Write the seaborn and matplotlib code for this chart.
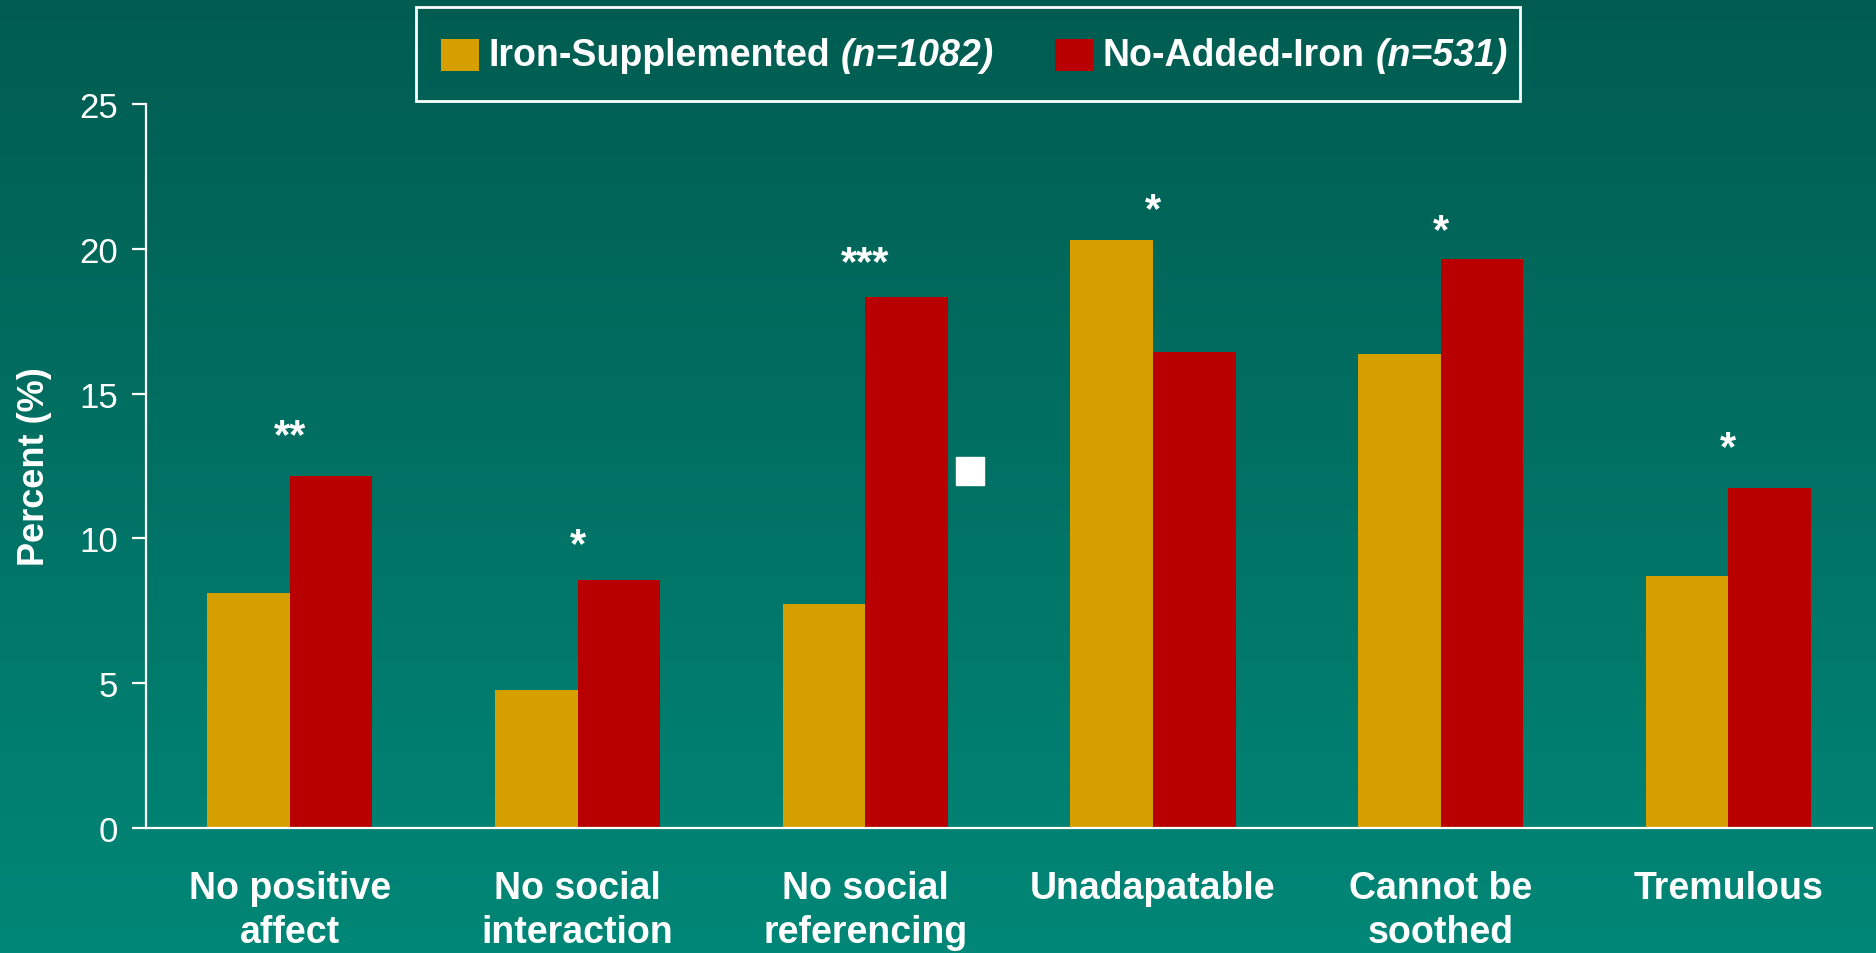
import numpy as np
import pandas as pd
import matplotlib
matplotlib.use("Agg")
import matplotlib.pyplot as plt
import seaborn as sns
from matplotlib.offsetbox import TextArea, DrawingArea, HPacker, AnchoredOffsetbox
from matplotlib.patches import Rectangle

categories = ["No positive\naffect", "No social\ninteraction", "No social\nreferencing",
              "Unadapatable", "Cannot be\nsoothed", "Tremulous"]
iron_supp = [8.1, 4.75, 7.75, 20.3, 16.35, 8.7]
no_iron = [12.15, 8.55, 18.35, 16.45, 19.65, 11.75]
stars = ["**", "*", "***", "*", "*", "*"]
star_y = [13.7, 9.95, 19.7, 21.5, 20.8, 13.3]
groups = ["Iron-Supplemented", "No-Added-Iron"]
group_n = ["(n=1082)", "(n=531)"]
colors = ["#D59F00", "#B90000"]

df = pd.DataFrame({
    "category": categories * 2,
    "group": [groups[0]] * len(categories) + [groups[1]] * len(categories),
    "value": iron_supp + no_iron,
})

sns.set_theme(style="white")
plt.rcParams["font.family"] = ["Liberation Sans", "DejaVu Sans"]

fig = plt.figure(figsize=(18.76, 9.54), dpi=100)

# background gradient
bg = fig.add_axes([0, 0, 1, 1], zorder=-10)
grad = np.linspace(0, 1, 256).reshape(-1, 1)
top = np.array([0x00, 0x5C, 0x51]) / 255
bot = np.array([0x00, 0x87, 0x77]) / 255
img = top + (bot - top) * grad[..., None]
bg.imshow(img, aspect="auto", extent=[0, 1, 0, 1])
bg.axis("off")

ax = fig.add_axes([0.0778, 0.131, 0.9202, 0.759])
ax.set_facecolor("none")
sns.barplot(data=df, x="category", y="value", hue="group", palette=colors,
            width=0.574, gap=0, saturation=1, dodge=True, ax=ax, legend=False,
            linewidth=0, edgecolor="none")

ax.set_xlim(-0.5, 5.5)
ax.set_ylim(0, 25)
ax.set_yticks([0, 5, 10, 15, 20, 25])
for s in ["top", "right"]:
    ax.spines[s].set_visible(False)
for s in ["left", "bottom"]:
    ax.spines[s].set_color("white")
    ax.spines[s].set_linewidth(1.6)
ax.tick_params(axis="y", direction="out", length=10, width=1.6, color="white",
               labelcolor="white", labelsize=25, pad=10, left=True)
ax.tick_params(axis="x", length=0, labelcolor="white", labelsize=27, pad=30)
for lab in ax.get_xticklabels():
    lab.set_fontweight("bold")
    lab.set_linespacing(1.3)
ax.set_xlabel("")
ax.set_ylabel("Percent (%)", color="white", fontsize=26, fontweight="bold", labelpad=20)

# significance stars
for i, st in enumerate(stars):
    ax.text(i, star_y[i] - 0.56, st, ha="center", va="baseline", color="white",
            fontsize=30, fontweight="bold")

# stray white square marker
ax.plot([2.363], [12.34], marker="s", markersize=20, color="white", linestyle="none")

# legend frame
fig.add_artist(Rectangle((0.2217, 0.8931), 0.5885, 0.0985, transform=fig.transFigure,
                         facecolor="none", edgecolor="white", linewidth=2))


def gap(w):
    return DrawingArea(w, 1, 0, 0)


# legend content: bold name + italic n
items = []
for g, n, c in zip(groups, group_n, colors):
    da = DrawingArea(27, 23, 0, 0)
    da.add_artist(Rectangle((0, 0), 27, 23, facecolor=c, edgecolor="none"))
    items += [da, gap(7),
              TextArea(g, textprops=dict(color="white", fontsize=27, fontweight="bold")),
              gap(8),
              TextArea(n, textprops=dict(color="white", fontsize=27,
                                         fontweight="bold", fontstyle="italic")),
              gap(44)]
items = items[:-1]
row = HPacker(children=items, align="center", pad=0, sep=0)
leg = AnchoredOffsetbox(loc="center", child=row, pad=0, borderpad=0, frameon=False,
                        bbox_to_anchor=(0.5195, 0.9417), bbox_transform=fig.transFigure)
fig.add_artist(leg)

fig.savefig("out.png", dpi=100)
